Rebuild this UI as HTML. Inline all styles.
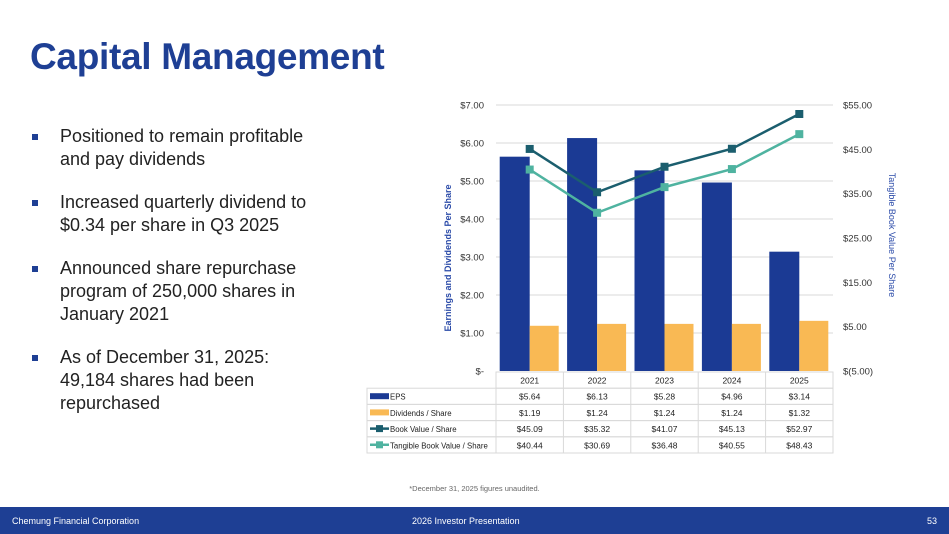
<!DOCTYPE html>
<html><head><meta charset="utf-8"><style>
body{margin:0;width:949px;height:534px;overflow:hidden;background:#fff;font-family:"Liberation Sans",sans-serif;position:relative}
#title{position:absolute;left:30px;top:36px;font-size:37px;font-weight:bold;color:#1e3f94;margin:0;letter-spacing:-0.3px}
ul{position:absolute;left:30px;top:125px;margin:0;padding:0;list-style:none;width:290px}
li{position:relative;padding-left:30px;font-size:18px;line-height:23px;color:#222;margin-bottom:20px}
li:before{content:"";position:absolute;left:2px;top:9px;width:6px;height:6px;background:#1e3f94}
#footer{position:absolute;left:0;top:507px;width:949px;height:27px;background:#1e3f94;color:#fff;font-size:9px}
#footer span{position:absolute;top:9px}
#note{position:absolute;left:0;width:949px;text-align:center;top:484px;font-size:7.5px;color:#666}
</style></head><body>
<h1 id="title">Capital Management</h1>
<ul>
<li>Positioned to remain profitable and pay dividends</li>
<li>Increased quarterly dividend to $0.34 per share in Q3 2025</li>
<li>Announced share repurchase program of 250,000 shares in January 2021</li>
<li>As of December 31, 2025: 49,184 shares had been repurchased</li>
</ul>
<svg id="chart" width="949" height="534" style="position:absolute;left:0;top:0" font-family="Liberation Sans, sans-serif"></svg>
<div id="note">*December 31, 2025 figures unaudited.</div>
<div id="footer">
<span style="left:12px">Chemung Financial Corporation</span>
<span style="left:412px">2026 Investor Presentation</span>
<span style="right:12px">53</span>
</div>
<script>
const years=["2021","2022","2023","2024","2025"];
const eps=[5.64,6.13,5.28,4.96,3.14];
const divs=[1.19,1.24,1.24,1.24,1.32];
const bv=[45.09,35.32,41.07,45.13,52.97];
const tbv=[40.44,30.69,36.48,40.55,48.43];
const leftTicks=[0,1,2,3,4,5,6,7];
const rightTicks=[-5,5,15,25,35,45,55];
const svg=document.getElementById('chart');
const NS="http://www.w3.org/2000/svg";
const X0=496,X1=833,Y0=371,Y1=105;
const yL=v=>Y0-(v-0)/7*(Y0-Y1);
const yR=v=>Y0-(v+5)/60*(Y0-Y1);
const cw=(X1-X0)/years.length;
const xc=i=>X0+cw*(i+0.5);
function mk(t,a,txt){const e=document.createElementNS(NS,t);for(const k in a)e.setAttribute(k,a[k]);if(txt!==undefined)e.textContent=txt;svg.appendChild(e);return e;}
leftTicks.forEach(v=>{
 if(v>0){const g=mk('line',{x1:X0,x2:X1,y1:yL(v),y2:yL(v),stroke:'#d9d9d9','stroke-width':1});
 
 }
 const t=mk('text',{x:484,y:yL(v)+3.5,'text-anchor':'end','font-size':9.5,fill:'#333'},v===0?'$-':'$'+v.toFixed(2));
 
 
});
rightTicks.forEach(v=>{
 const t=mk('text',{x:843,y:yR(v)+3.5,'font-size':9.5,fill:'#333'},v<0?'$('+Math.abs(v).toFixed(2)+')':'$'+v.toFixed(2));
 
 
});
const lt=mk('text',{transform:'translate(451,258) rotate(-90)','text-anchor':'middle','font-size':9,'font-weight':'bold',fill:'#2a4aa8'},'Earnings and Dividends Per Share');


const rt=mk('text',{transform:'translate(889,235) rotate(90)','text-anchor':'middle','font-size':9,fill:'#2a4aa8'},'Tangible Book Value Per Share');


years.forEach((y,i)=>{
 const b=mk('rect',{x:xc(i)-30,y:yL(eps[i]),width:30,height:Y0-yL(eps[i]),fill:'#1b3a94'});
 
 
 const d=mk('rect',{x:xc(i),y:yL(divs[i]),width:29,height:Y0-yL(divs[i]),fill:'#f9b954'});
 
 
});
function line(arr,col,name){
 const p=mk('polyline',{points:arr.map((v,i)=>xc(i)+','+yR(v)).join(' '),fill:'none',stroke:col,'stroke-width':2.5});
 
 
 arr.forEach((v,i)=>{const m=mk('rect',{x:xc(i)-4,y:yR(v)-4,width:8,height:8,fill:col});
 
 });
}
line(bv,'#1b5e6e','book-value');
line(tbv,'#4fb3a0','tangible-book-value');
const TL=367,RH=16.2,TT=372;
const rows=[["EPS",eps,'bar','#1b3a94'],["Dividends / Share",divs,'bar','#f9b954'],["Book Value / Share",bv,'line','#1b5e6e'],["Tangible Book Value / Share",tbv,'line','#4fb3a0']];
mk('rect',{x:X0,y:TT,width:X1-X0,height:RH,fill:'none',stroke:'#d9d9d9'});
years.forEach((y,i)=>{
 mk('line',{x1:X0+cw*i,x2:X0+cw*i,y1:TT,y2:TT+RH*5,stroke:'#d9d9d9'});
 const t=mk('text',{x:xc(i),y:TT+11.5,'text-anchor':'middle','font-size':8.5,fill:'#222'},y);
 
 
});
rows.forEach((r,ri)=>{
 const yy=TT+RH*(ri+1);
 mk('rect',{x:TL,y:yy,width:X1-TL,height:RH,fill:'none',stroke:'#d9d9d9'});
 if(r[2]==='bar')mk('rect',{x:TL+3,y:yy+5,width:19,height:6,fill:r[3]});
 else{mk('line',{x1:TL+3,x2:TL+22,y1:yy+8,y2:yy+8,stroke:r[3],'stroke-width':2.5});mk('rect',{x:TL+9,y:yy+4.5,width:7,height:7,fill:r[3]});}
 const l=mk('text',{x:TL+23,y:yy+11.5,'font-size':7.8,fill:'#222'},r[0]);
 
 
 r[1].forEach((v,i)=>{const t=mk('text',{x:xc(i),y:yy+11.5,'text-anchor':'middle','font-size':8.5,fill:'#222'},'$'+v.toFixed(2));
 
 });
});
</script>
</body></html>
